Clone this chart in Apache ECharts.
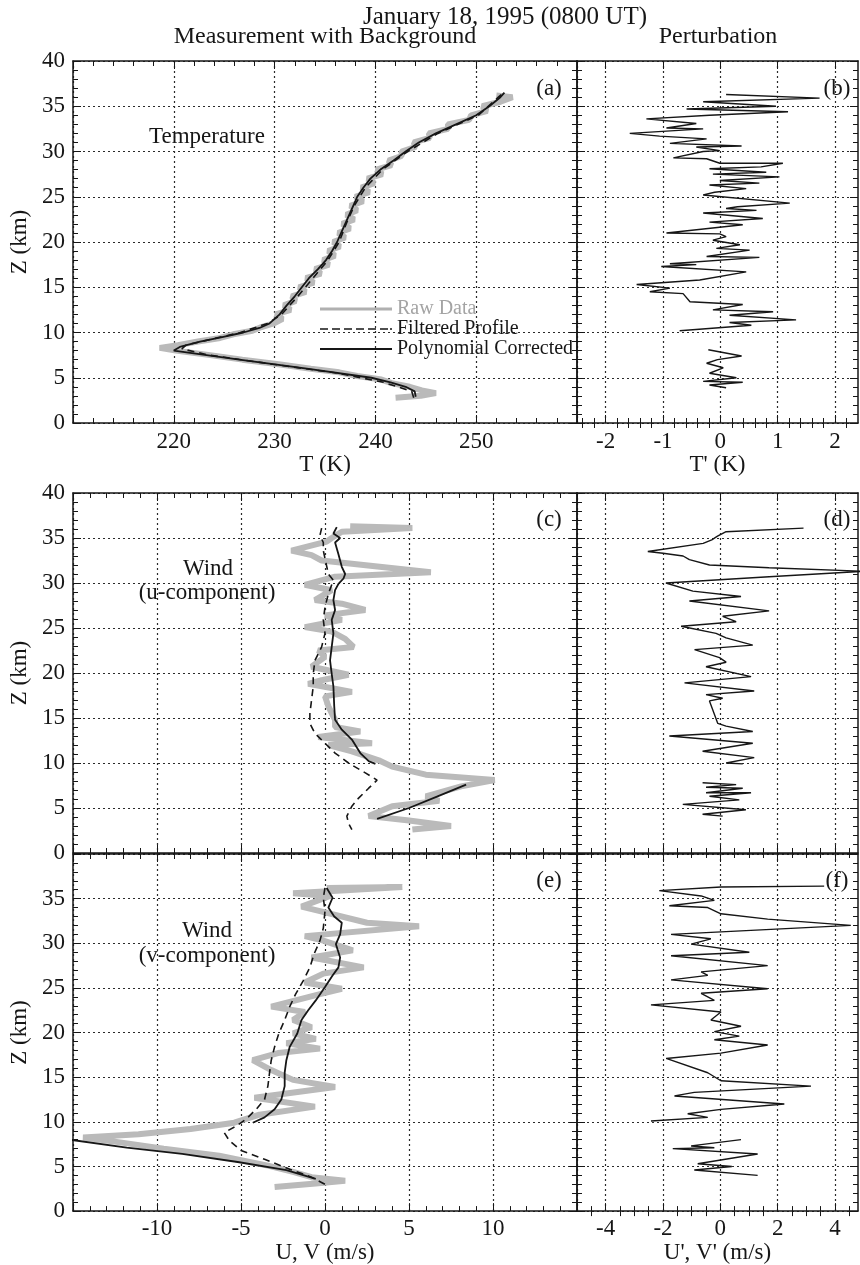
<!DOCTYPE html>
<html>
<head>
<meta charset="utf-8">
<script src="https://cdn.jsdelivr.net/npm/echarts@6/dist/echarts.min.js"></script>
<style>
  html, body { margin: 0; padding: 0; background: #fff; }
  #main { width: 860px; height: 1265px; }
</style>
</head>
<body>
<div id="main"></div>
<script>
// ---- panel (a): temperature profile, Z in km, T in K
var zRawT = [2.8, 3.0, 3.3, 3.6, 4.0, 4.4, 4.8, 5.2, 5.6, 6.0, 6.5, 7.0, 7.5, 8.0, 8.3, 8.6, 9.0, 9.4, 9.8, 10.2, 10.6, 11.0, 11.5, 12.0, 12.5, 13.0, 13.5, 14.0, 14.5, 15.0, 15.5, 16.0, 16.5, 17.0, 17.5, 18.0, 18.5, 19.0, 19.5, 20.0, 20.5, 21.0, 21.5, 22.0, 22.5, 23.0, 23.5, 24.0, 24.5, 25.0, 25.5, 26.0, 26.5, 27.0, 27.5, 28.0, 28.5, 29.0, 29.5, 30.0, 30.5, 31.0, 31.5, 32.0, 32.5, 33.0, 33.5, 34.0, 34.5, 35.0, 35.5, 36.0, 36.2];
var tRaw = [242.0, 244.5, 246.0, 244.6, 243.4, 241.6, 240.6, 238.2, 236.4, 233.6, 230.4, 226.8, 223.6, 220.2, 218.6, 220.4, 222.4, 224.6, 225.9, 227.8, 228.7, 229.9, 230.8, 230.1, 231.6, 230.9, 232.1, 231.7, 233.1, 232.4, 233.9, 233.1, 234.6, 234.0, 235.4, 234.8, 236.0, 235.3, 236.5, 235.8, 237.0, 236.3, 237.5, 236.7, 237.9, 237.1, 238.2, 237.5, 238.8, 238.0, 239.4, 238.6, 239.9, 239.2, 240.7, 240.1, 241.6, 241.3, 242.6, 242.6, 244.0, 243.8, 245.4, 245.3, 247.2, 247.2, 249.3, 249.5, 251.1, 250.6, 252.4, 253.6, 252.0];
var zFiltT = [2.8, 3.5, 4.5, 5.5, 6.5, 7.5, 8.2, 8.6, 9.2, 10.0, 11.0, 12.0, 14.0, 16.0, 18.0, 20.0, 22.0, 24.0, 26.0, 28.0, 30.0, 32.0, 34.0, 36.0, 36.4];
var tFilt = [243.8, 243.6, 240.8, 236.3, 229.8, 223.5, 220.8, 221.2, 223.5, 226.6, 229.3, 230.7, 232.3, 233.8, 235.3, 236.4, 237.1, 237.9, 239.0, 240.7, 243.2, 246.2, 250.2, 252.2, 252.6];
var zPolyT = [2.9, 3.5, 4.0, 4.5, 5.0, 6.0, 7.0, 8.0, 8.4, 9.0, 9.5, 10.0, 10.5, 11.0, 12.0, 13.0, 14.0, 15.0, 16.0, 17.0, 18.0, 19.0, 20.0, 21.0, 22.0, 23.0, 24.0, 25.0, 26.0, 27.0, 28.0, 29.0, 30.0, 31.0, 32.0, 33.0, 34.0, 35.0, 36.0, 36.5];
var tPoly = [244.0, 243.9, 243.0, 241.5, 239.6, 233.2, 226.5, 220.0, 220.6, 222.6, 224.8, 226.9, 228.5, 229.5, 230.5, 231.2, 232.0, 232.7, 233.4, 234.3, 235.1, 235.7, 236.2, 236.6, 237.0, 237.4, 237.8, 238.2, 238.8, 239.5, 240.5, 241.8, 243.0, 244.3, 246.0, 248.0, 250.0, 251.3, 252.4, 252.8];

// ---- panel (b): temperature perturbation T' (K), null = gap
var zPertT = [36.3, 35.9, 35.5, 35.0, 34.7, 34.4, 34.0, 33.6, 33.1, 32.6, 32.5, 32.0, 31.7, 31.4, 30.9, 30.6, 30.5, 30.1, 30.0, 29.3, 29.2, 28.7, 28.7, 28.3, 28.1, 27.7, 27.5, 27.2, 26.8, 26.5, 26.3, 25.9, 25.5, 25.2, 24.3, 23.9, 23.7, 23.5, 23.2, 22.6, 22.2, 21.9, 21.0, 20.9, 20.6, 20.2, 19.7, 19.3, 19.1, 18.4, 18.3, 17.6, 17.5, 17.3, 16.7, 15.8, 15.3, 14.9, 14.5, 14.3, 13.4, 13.1, 12.5, 12.3, 11.9, 11.4, 11.1, 10.8, 10.2, null, 8.1, 7.4, 7.0, 6.6, 6.1, 5.5, 5.0, 4.6, 4.5, 4.2, 3.9];
var tPert = [0.1, 1.73, -0.3, 0.97, -0.59, 1.18, -0.19, -1.29, -0.42, -0.94, -0.3, -1.58, -1.06, -0.24, -0.88, 0.37, -0.42, -0.01, -0.3, -0.82, -0.24, -0.01, 1.09, 0.71, -0.19, 0.8, -0.13, 1.03, -0.01, 0.68, -0.19, 0.45, -0.1, -0.3, 1.21, 0.3, 0.1, 0.63, -0.3, 0.74, -0.19, 0.39, -0.94, -0.01, 0.1, -0.13, 0.34, -0.07, 0.51, -0.24, 0.68, -0.88, -0.42, -1.03, 0.45, -0.36, -1.46, -0.88, -1.23, -0.65, -0.53, 0.39, -0.13, 0.92, 0.16, 1.32, 0.16, 0.54, -0.71, null, -0.21, 0.37, -0.05, -0.24, 0.05, -0.19, 0.28, -0.3, 0.39, -0.19, 0.1];

// ---- panel (c): zonal wind u (m/s)
var zRawU = [36.3, 36.1, 35.7, 35.0, 34.6, 33.6, 33.1, 32.5, 31.2, 30.7, 29.8, 29.2, 28.1, 27.7, 27.0, 26.4, 25.9, 25.1, 24.6, 23.8, 22.9, 22.5, 21.8, 20.7, 19.8, 19.2, 18.8, 17.9, 17.4, 16.3, 14.8, 14.0, 13.5, 12.9, 12.2, 12.0, 11.3, 10.3, 9.6, 8.7, 8.1, 7.4, 6.3, 5.8, 5.2, 4.1, 3.6, 3.0, 2.6];
var uRaw = [1.5, 5.2, 1.0, 0.4, 0.1, -2.0, -0.8, -0.2, 6.3, 0.6, -1.2, 0.4, -0.6, 1.0, 2.4, 0.0, 1.0, -1.2, 0.4, 1.2, 1.7, -0.4, 0.0, -0.8, 1.4, -0.2, -1.0, 1.6, 0.0, 0.2, 0.6, 0.6, 2.1, -0.4, 2.8, 0.2, 1.6, 3.2, 4.0, 6.0, 10.1, 8.1, 6.0, 6.8, 4.0, 2.6, 5.0, 7.5, 5.2];
var zFiltU = [36.1, 35.3, 34.5, 33.6, 31.0, 30.3, 28.8, 27.3, 25.9, 24.4, 22.9, 21.4, 19.9, 18.5, 17.0, 15.5, 14.4, 13.3, 12.2, 11.1, 10.0, 8.9, 8.1, 7.2, 6.1, 5.2, 4.1, 3.3, 2.6];
var uFilt = [-0.2, -0.3, -0.1, -0.1, 0.2, 0.5, 0.2, 0.0, -0.1, 0.0, -0.2, -0.6, -0.7, -0.7, -0.8, -0.9, -0.9, -0.6, 0.0, 0.6, 1.4, 2.4, 3.1, 2.6, 2.0, 1.6, 1.3, 1.4, 1.6];
var zPolyU = [36.2, 35.5, 35.0, 34.5, 33.2, 31.8, 31.0, 30.5, 29.9, 29.2, 28.1, 27.0, 25.9, 24.4, 22.9, 21.4, 19.9, 18.5, 16.3, 14.8, 13.7, 12.6, 11.1, 10.2, 9.9, null, 7.6, 6.3, 5.0, 3.8];
var uPoly = [0.7, 0.5, 0.9, 0.6, 0.8, 1.0, 1.2, 1.1, 0.8, 0.6, 0.5, 0.6, 0.4, 0.5, 0.4, 0.3, 0.4, 0.5, 0.55, 0.6, 1.0, 1.6, 2.1, 2.6, 3.0, null, 8.4, 6.7, 5.0, 3.1];

// ---- panel (d): U' (m/s)
var zPertU = [36.1, 35.7, 35.2, 34.8, 34.4, 33.5, 33.3, 33.0, 32.6, 32.0, 31.7, 31.3, 30.7, 30.0, 29.1, 28.5, 28.0, 26.9, 26.3, 25.7, 25.2, 24.4, 23.9, 23.1, 22.6, 21.7, 21.2, 20.7, 19.6, 18.9, 18.0, 17.6, 17.2, 16.9, 14.4, 14.1, 13.5, 13.0, 12.2, 11.3, 10.6, 10.0, 9.9, null, 7.8, 7.6, 7.3, 7.2, 6.7, 6.7, 6.3, 5.9, 5.4, 4.8, 4.3, 4.1];
var uPert = [2.9, 0.2, -0.1, -0.3, -0.6, -2.53, -2.0, -1.3, -1.08, -0.38, 1.7, 5.0, 1.7, -1.9, -0.96, 0.72, -1.08, 1.7, 0.08, 0.55, -1.37, -0.15, 0.2, 1.13, -0.9, -0.03, 0.2, -0.5, 1.07, -1.25, 1.18, -0.5, 0.08, -0.38, -0.09, 0.2, 1.13, -1.78, 1.13, -0.62, 1.18, 0.2, 0.78, null, -0.62, 0.55, -0.5, 0.78, -0.5, 1.07, -0.38, 0.66, -1.31, 0.89, -0.62, 0.08];

// ---- panel (e): meridional wind v (m/s)
var zRawV = [36.2, 36.3, 35.6, 35.3, 34.1, 33.6, 32.3, 31.9, 30.8, 30.3, 29.2, 28.4, 27.3, 26.6, 25.6, 24.9, 24.3, 22.9, 22.3, 21.4, 20.6, 19.9, 19.3, 18.8, 18.2, 17.7, 16.9, 15.8, 14.7, 13.9, 12.7, 11.7, 10.8, 9.9, 9.2, 8.6, 8.25, 7.7, 7.0, 6.2, 5.1, 4.4, 3.8, 3.4, 3.1, 2.7];
var vRaw = [0.1, 4.6, -1.9, 0.3, -1.4, -0.3, 2.5, 5.6, -1.2, -0.1, 1.65, -0.8, 2.3, -0.1, -1.2, 1.0, -0.3, -3.2, -1.2, -1.9, -0.8, -1.9, -0.55, -2.3, -0.3, -2.8, -4.3, -3.2, -1.9, 0.6, -4.2, -0.6, -3.9, -5.4, -8.0, -11.1, -14.4, -12.2, -9.6, -6.3, -3.4, -1.9, -0.8, 1.2, -0.55, -3.0];
var zFiltV = [36.2, 35.1, 33.6, 31.7, 30.3, 28.8, 27.3, 25.8, 24.3, 22.9, 21.4, 19.9, 18.4, 16.9, 15.5, 14.0, 12.5, 11.4, 10.3, 9.5, 8.8, 7.9, 6.8, 5.8, 4.7, 3.8, 2.9];
var vFilt = [0.0, -0.1, 0.0, -0.1, -0.3, -0.65, -0.9, -1.3, -1.75, -2.1, -2.4, -2.75, -3.0, -3.2, -3.3, -3.4, -3.6, -4.1, -4.7, -5.3, -6.0, -5.7, -5.0, -3.6, -2.1, -0.8, 0.1];
var zPolyV = [36.2, 35.1, 34.0, 33.0, 32.3, 31.0, 29.9, 28.4, 27.3, 26.4, 25.1, 23.6, 22.5, 21.4, 19.9, 18.4, 16.9, 15.5, 14.0, 12.5, 11.4, 10.5, 9.9, null, 8.0, 7.1, 6.4, 5.5, 4.6, 3.6];
var vPoly = [0.1, 0.45, 0.2, 0.55, 1.0, 0.9, 0.65, 0.9, 0.8, 0.45, 0.0, -0.55, -1.0, -1.4, -1.65, -2.1, -2.3, -2.4, -2.4, -2.6, -3.0, -3.6, -4.3, null, -15.2, -11.8, -8.5, -5.2, -2.3, -0.55];

// ---- panel (f): V' (m/s)
var zPertV = [36.4, 36.3, 35.9, 35.3, 34.8, 34.2, 34.0, 33.3, 32.7, 32.0, 31.0, 30.5, 29.9, 29.0, 28.6, 27.5, 26.8, 26.4, 25.9, 24.9, 24.4, 23.6, 23.1, 22.3, 21.4, 20.7, 20.1, 19.6, 19.2, 18.6, 17.7, 17.1, 15.5, 14.6, 14.0, 13.3, 12.9, 12.0, 11.4, 10.9, 10.5, 10.1, null, 8.0, 7.3, 7.1, 7.0, 6.4, 5.3, 5.0, 4.6, 4.0];
var vPert = [3.62, 0.02, -2.13, -0.67, -0.21, -1.78, -0.44, 0.02, 1.65, 4.55, -1.72, -0.33, -1.02, 1.01, -1.72, 1.65, -0.67, -0.44, -1.72, 1.65, -0.67, -0.21, -2.42, 0.02, -0.33, 0.72, -0.21, 0.66, -0.21, 1.65, 0.02, -1.89, -0.44, 0.02, 3.16, -0.91, -1.6, 2.23, 0.02, -1.14, -0.44, -2.42, null, 0.72, -1.02, -0.21, -1.66, 1.3, -0.79, 0.4, -0.91, 1.3];

// ---- tick labels
var zLabels = [0, 5, 10, 15, 20, 25, 30, 35, 40];
var zLabelsLow = [0, 5, 10, 15, 20, 25, 30, 35];
var tLabels = [220, 230, 240, 250];
var uvLabels = [-10, -5, 0, 5, 10];
var tPrimeTicks = [-2, -1, 0, 1, 2];
var tPrimeMinor = [-2.4, -2.2, -1.8, -1.6, -1.4, -1.2, -0.8, -0.6, -0.4, -0.2, 0.2, 0.4, 0.6, 0.8, 1.2, 1.4, 1.6, 1.8, 2.2];
var uvPrimeTicks = [-4, -2, 0, 2, 4];
var uvPrimeMinor = [-4.5, -3.5, -3, -2.5, -1.5, -1, -0.5, 0.5, 1, 1.5, 2.5, 3, 3.5, 4.5];

var ink = '#161616';
var rawGrey = '#bababa';
var serif = '"Liberation Serif", "DejaVu Serif", serif';
var tickFont = { fontFamily: serif, fontSize: 23, color: ink };

// panel boxes: a b / c d / e f
var grids = [
  { left: 73, top: 61, width: 504, height: 362 },
  { left: 577, top: 61, width: 281, height: 362 },
  { left: 73, top: 493, width: 504, height: 360 },
  { left: 577, top: 493, width: 281, height: 360 },
  { left: 73, top: 854, width: 504, height: 358 },
  { left: 577, top: 854, width: 281, height: 358 }
];

var xAxis = [], yAxis = [], xMain = [], yMain = [];
var axisLine = { onZero: false, lineStyle: { color: ink, width: 1.5 } };
var gridLine = { show: true, lineStyle: { color: '#2a2a2a', width: 1.2, type: [2, 3] } };

function onlyFrom(list) {
  return function (v) { return list.indexOf(+v.toFixed(3)) >= 0 ? String(v) : ''; };
}

function makeX(g, pos, s) {
  var ax = {
    type: 'value', gridIndex: g, position: pos, min: s.min, max: s.max,
    axisLine: axisLine,
    axisTick: { inside: true, length: 8, lineStyle: { color: ink } },
    minorTick: { show: false },
    splitLine: { show: false },
    axisLabel: { show: false }
  };
  if (s.interval) {
    ax.interval = s.interval;
    ax.minorTick = { show: true, splitNumber: s.minor, length: 5, lineStyle: { color: ink } };
  } else {
    ax.axisTick.customValues = s.major;
  }
  if (pos === 'bottom') {
    ax.splitLine = gridLine;
    if (s.labels) {
      ax.axisLabel = Object.assign({ show: true, margin: s.margin, formatter: onlyFrom(s.labels) }, tickFont);
      if (!s.interval) ax.axisLabel.customValues = s.major;
      ax.name = s.name;
      ax.nameLocation = 'middle';
      ax.nameGap = s.nameGap;
      ax.nameTextStyle = tickFont;
    }
  }
  xAxis.push(ax);
  var idx = xAxis.length - 1;
  if (!s.interval) {
    // second axis on the same edge, carrying only the short ticks
    xAxis.push({
      type: 'value', gridIndex: g, position: pos, min: s.min, max: s.max,
      axisLine: { show: false }, axisLabel: { show: false }, splitLine: { show: false },
      axisTick: { inside: true, length: 5, customValues: s.minorList, lineStyle: { color: ink } }
    });
  }
  return idx;
}

function makeY(g, pos, labels) {
  var ay = {
    type: 'value', gridIndex: g, position: pos, min: 0, max: 40, interval: 5,
    axisLine: axisLine,
    axisTick: { inside: true, length: 8, lineStyle: { color: ink } },
    minorTick: { show: true, splitNumber: 5, length: 5, lineStyle: { color: ink } },
    splitLine: pos === 'left' ? gridLine : { show: false },
    axisLabel: { show: false }
  };
  if (labels) {
    ay.axisLabel = Object.assign({ show: true, margin: 8, formatter: onlyFrom(labels) }, tickFont);
    ay.name = 'Z (km)';
    ay.nameLocation = 'middle';
    ay.nameGap = 38;
    ay.nameTextStyle = tickFont;
  }
  yAxis.push(ay);
  return yAxis.length - 1;
}

var xSpec = [
  { min: 210, max: 260, interval: 10, minor: 5, labels: tLabels, name: 'T (K)', margin: 7, nameGap: 29 },
  { min: -2.5, max: 2.4, major: tPrimeTicks, minorList: tPrimeMinor, labels: tPrimeTicks, name: "T' (K)", margin: 7, nameGap: 29 },
  { min: -15, max: 15, interval: 5, minor: 5 },
  { min: -5, max: 4.8, major: uvPrimeTicks, minorList: uvPrimeMinor },
  { min: -15, max: 15, interval: 5, minor: 5, labels: uvLabels, name: 'U, V (m/s)', margin: 6, nameGap: 27 },
  { min: -5, max: 4.8, major: uvPrimeTicks, minorList: uvPrimeMinor, labels: uvPrimeTicks, name: "U', V' (m/s)", margin: 6, nameGap: 27 }
];
var yLab = [zLabels, null, zLabels, null, zLabelsLow, null];

for (var g = 0; g < 6; g++) {
  xMain[g] = makeX(g, 'bottom', xSpec[g]);
  makeX(g, 'top', xSpec[g]);
  yMain[g] = makeY(g, 'left', yLab[g]);
  makeY(g, 'right', null);
}

function pairs(xs, zs) {
  return xs.map(function (v, i) { return v === null ? ['-', '-'] : [v, zs[i]]; });
}

var rawStyle = { color: rawGrey, width: 6 };
var filtStyle = { color: ink, width: 1.6, type: [7, 5] };
var polyStyle = { color: ink, width: 1.8 };
var pertStyle = { color: ink, width: 1.4 };

var series = [];
function prof(name, xs, zs, g, style, z) {
  series.push({
    type: 'line', name: name, xAxisIndex: xMain[g], yAxisIndex: yMain[g],
    data: pairs(xs, zs), symbol: 'none', lineStyle: style,
    itemStyle: { color: style.color }, z: z,
    silent: true, animation: false, clip: true
  });
}
prof('Raw Data', tRaw, zRawT, 0, rawStyle, 2);
prof('Filtered Profile', tFilt, zFiltT, 0, filtStyle, 3);
prof('Polynomial Corrected', tPoly, zPolyT, 0, polyStyle, 4);
prof('T prime', tPert, zPertT, 1, pertStyle, 3);
prof('Raw Data', uRaw, zRawU, 2, rawStyle, 2);
prof('Filtered Profile', uFilt, zFiltU, 2, filtStyle, 3);
prof('Polynomial Corrected', uPoly, zPolyU, 2, polyStyle, 4);
prof('U prime', uPert, zPertU, 3, pertStyle, 3);
prof('Raw Data', vRaw, zRawV, 4, rawStyle, 2);
prof('Filtered Profile', vFilt, zFiltV, 4, filtStyle, 3);
prof('Polynomial Corrected', vPoly, zPolyV, 4, polyStyle, 4);
prof('V prime', vPert, zPertV, 5, pertStyle, 3);

function note(text, x, y, size, color) {
  return {
    type: 'text', x: x, y: y, z: 10, silent: true,
    style: { text: text, fontFamily: serif, fontSize: size || 23, fill: color || ink, align: 'center', verticalAlign: 'middle' }
  };
}

// legend keys drawn as plain strokes (no symbol marker)
var keyRaw = 'path://M0,0h72v3h-72z';
var keyDash = 'path://M0,0h8v1.6h-8z M12,0h8v1.6h-8z M24,0h8v1.6h-8z M36,0h8v1.6h-8z M48,0h8v1.6h-8z M60,0h8v1.6h-8z M70,0h2v1.6h-2z';
var keySolid = 'path://M0,0h72v1.8h-72z';

var chart = echarts.init(document.getElementById('main'), null, { renderer: 'canvas' });
chart.setOption({
  backgroundColor: '#ffffff',
  animation: false,
  grid: grids,
  xAxis: xAxis,
  yAxis: yAxis,
  series: series,
  legend: {
    left: 315, top: 294, orient: 'vertical',
    itemWidth: 72, itemHeight: 14, itemGap: 0, selectedMode: false,
    textStyle: { fontFamily: serif, fontSize: 20, color: ink },
    data: [
      { name: 'Raw Data', icon: keyRaw, itemStyle: { color: '#b0b0b0' }, textStyle: { color: '#a4a4a4' } },
      { name: 'Filtered Profile', icon: keyDash, itemStyle: { color: ink } },
      { name: 'Polynomial Corrected', icon: keySolid, itemStyle: { color: ink } }
    ]
  },
  graphic: [
    note('January 18, 1995 (0800 UT)', 505, 17, 25),
    note('Measurement with Background', 325, 37, 24),
    note('Perturbation', 718, 37, 24),
    note('Temperature', 207, 137),
    note('(a)', 549, 89),
    note('(b)', 837, 89),
    note('Wind', 208, 569),
    note('(u-component)', 207, 593),
    note('(c)', 549, 520),
    note('(d)', 837, 520),
    note('Wind', 207, 931),
    note('(v-component)', 207, 956),
    note('(e)', 549, 881),
    note('(f)', 837, 881)
  ]
});
</script>
</body>
</html>
